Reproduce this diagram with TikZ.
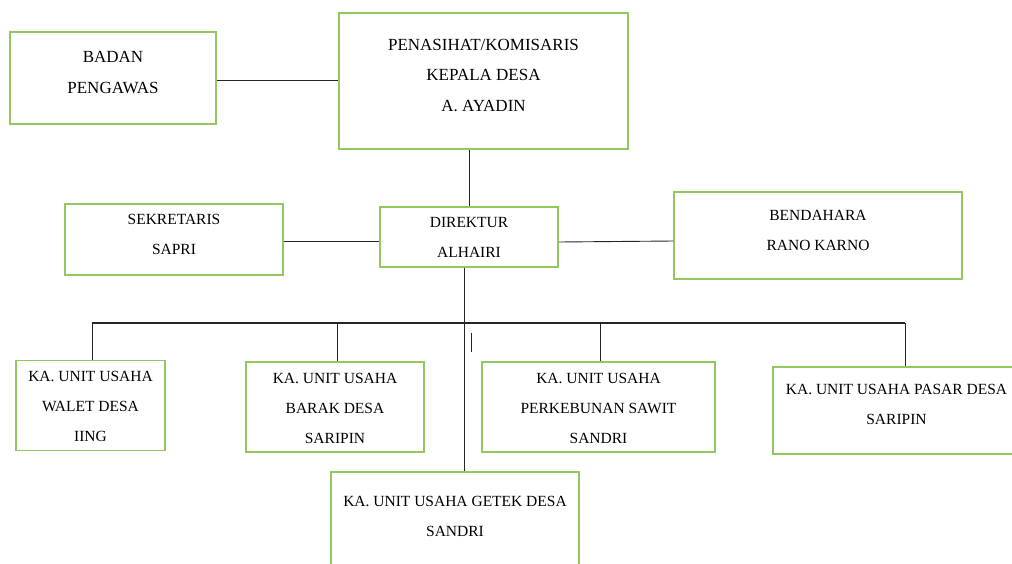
\documentclass[tikz,border=0pt]{standalone}
\usepackage{fontspec}
\setmainfont{Liberation Serif}
\usepackage{tikz}
\definecolor{boxgreen}{RGB}{146,200,96}
\newcommand{\boxlines}[2][0pt]{\raisebox{#1}[\height][\depth]{\begin{tabular}{@{}c@{}}#2\end{tabular}}}

\begin{document}
\begin{tikzpicture}[x=1pt,y=-1pt,
    orgbox/.style={draw=boxgreen,line width=1.2pt,inner sep=0pt,
      font=\fontsize{15.5}{30}\selectfont},
    bigtext/.style={font=\fontsize{17}{30.5}\selectfont},
    link/.style={draw=black!85,line width=0.9pt}]
  \useasboundingbox (0,0) rectangle (1012,563);
  \clip (0,0) rectangle (1012,563);

  % top row
  \node[orgbox,bigtext,minimum width=206pt,minimum height=92pt] (badan) at (113,78)
    {\boxlines[6pt]{BADAN\\PENGAWAS}};
  \node[orgbox,bigtext,minimum width=289pt,minimum height=136pt] (penasihat) at (483.5,81)
    {\boxlines[6.5pt]{PENASIHAT/KOMISARIS\\KEPALA DESA\\A. AYADIN}};

  % middle row
  \node[orgbox,minimum width=218pt,minimum height=71pt] (sekretaris) at (174,239.5)
    {\boxlines[6.5pt]{SEKRETARIS\\SAPRI}};
  \node[orgbox,minimum width=178pt,minimum height=60pt] (direktur) at (469,237)
    {\boxlines[1pt]{DIREKTUR\\ALHAIRI}};
  \node[orgbox,minimum width=288pt,minimum height=87pt] (bendahara) at (818,235.5)
    {\boxlines[6.5pt]{BENDAHARA\\RANO KARNO}};

  % unit usaha
  \node[orgbox,minimum width=149pt,minimum height=87pt] (walet) at (90.5,405.5)
    {\boxlines{KA. UNIT USAHA\\WALET DESA\\IING}};
  \node[orgbox,minimum width=178pt,minimum height=88pt] (barak) at (335,407)
    {\boxlines{KA. UNIT USAHA\\BARAK DESA\\SARIPIN}};
  \node[orgbox,minimum width=233pt,minimum height=88pt] (sawit) at (598.5,407)
    {\boxlines{KA. UNIT USAHA\\PERKEBUNAN SAWIT\\SANDRI}};
  \node[orgbox,minimum width=247pt,minimum height=87pt] (pasar) at (896.5,410.5)
    {\boxlines[7.5pt]{KA. UNIT USAHA PASAR DESA\\SARIPIN}};
  \node[orgbox,minimum width=248pt,minimum height=100pt] (getek) at (455,522)
    {\boxlines[6.5pt]{KA. UNIT USAHA GETEK DESA\\SANDRI}};

  % connectors
  \draw[link] ([yshift=-2pt]badan.east) -- ([yshift=-2pt]badan.east -| penasihat.west);
  \draw[link] (direktur.north) -- (direktur.north |- penasihat.south);
  \draw[link] ([yshift=-1.5pt]sekretaris.east) -- ([yshift=-1.5pt]sekretaris.east -| direktur.west);
  \draw[link] ([yshift=-5pt]direktur.east) -- ([yshift=-5.5pt]bendahara.west);

  \coordinate (bus) at (464,323);
  \draw[link] ([xshift=-5pt]direktur.south) -- ([xshift=-5pt]direktur.south |- getek.north);
  \draw[link,line width=1.4pt] ([xshift=1.5pt]walet.north |- bus) -- ([xshift=8.5pt]pasar.north |- bus);
  \draw[link] ([xshift=1.5pt]walet.north) -- ([xshift=1.5pt]walet.north |- bus);
  \draw[link] ([xshift=2pt]barak.north) -- ([xshift=2pt]barak.north |- bus);
  \draw[link] ([xshift=1.5pt]sawit.north) -- ([xshift=1.5pt]sawit.north |- bus);
  \draw[link] ([xshift=8.5pt]pasar.north) -- ([xshift=8.5pt]pasar.north |- bus);
  \draw[link] (471,333) -- (471,352);
\end{tikzpicture}
\end{document}
